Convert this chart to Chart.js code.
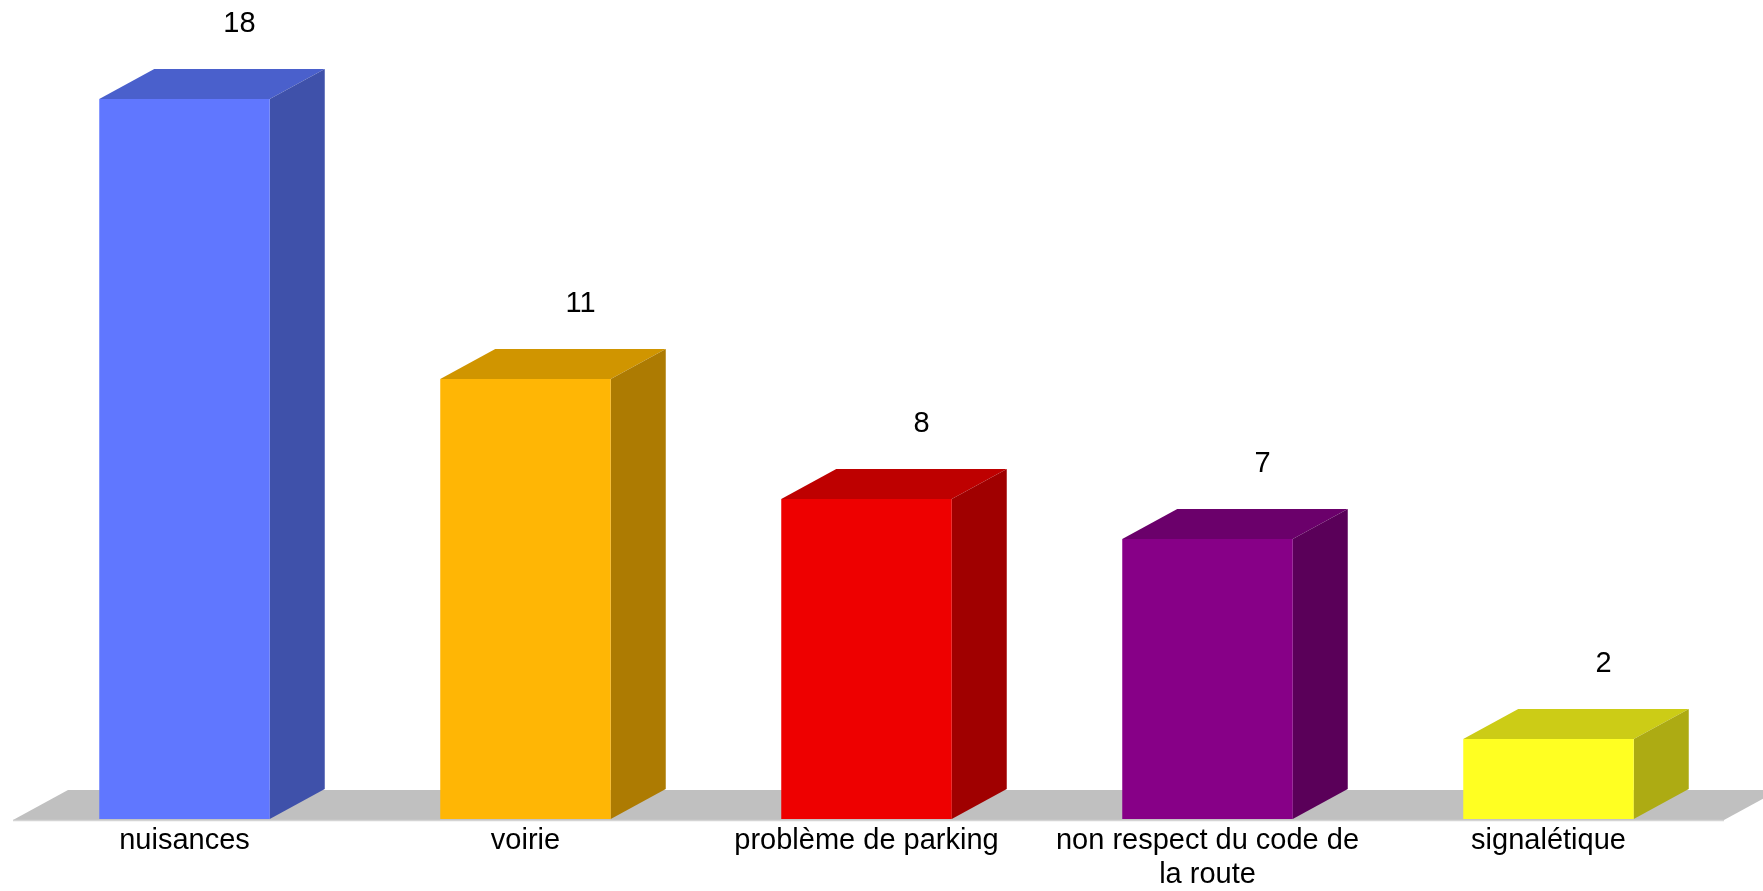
<!DOCTYPE html>
<html>
<head>
<meta charset="utf-8">
<title>3D bar chart</title>
<script src="https://cdn.jsdelivr.net/npm/chart.js@4.4.0/dist/chart.umd.min.js"></script>
<style>
  html, body { margin: 0; padding: 0; background: #fff; }
  #wrap { width: 1763px; height: 891px; }
</style>
</head>
<body>
<div id="wrap"><canvas id="chart" width="1763" height="891"></canvas></div>
<script>
'use strict';

/* DATA */

const categories = [
  'nuisances',
  'voirie',
  'problème de parking',
  ['non respect du code de', 'la route'],
  'signalétique'
];
const counts = [18, 11, 8, 7, 2];

// front / top / side shades per bar
const frontColors = ['#6077FF', '#FFB605', '#EE0000', '#870087', '#FFFF22'];
const topColors   = ['#4A60CC', '#D09500', '#BE0000', '#6B006B', '#CCCC16'];
const sideColors  = ['#3F51AA', '#AD7B02', '#A00000', '#5A0059', '#ADAB13'];

const DEPTH_X = 55;
const DEPTH_Y = 30;

/* 3D PLUGIN */

const box3d = {
  id: 'box3d',
  beforeDatasetsDraw(chart) {
    const ctx = chart.ctx;
    const area = chart.chartArea;
    const base = chart.scales.y.getPixelForValue(0);

    // grey floor
    const fl = area.left - 1, fr = area.right + 5, fy = base + 1;
    ctx.save();
    ctx.fillStyle = '#C0C0C0';
    ctx.beginPath();
    ctx.moveTo(fl, fy);
    ctx.lineTo(fl + DEPTH_X, fy - DEPTH_Y);
    ctx.lineTo(fr + DEPTH_X, fy - DEPTH_Y);
    ctx.lineTo(fr, fy);
    ctx.closePath();
    ctx.fill();
    ctx.strokeStyle = '#D4D4D4';
    ctx.lineWidth = 1.5;
    ctx.beginPath();
    ctx.moveTo(fl, fy + 0.5);
    ctx.lineTo(fr, fy + 0.5);
    ctx.stroke();

    // top and side faces
    chart.getDatasetMeta(0).data.forEach(function(bar, i) {
      const p = bar.getProps(['x', 'y', 'base', 'width'], true);
      const l = p.x - p.width / 2, r = p.x + p.width / 2;
      ctx.fillStyle = topColors[i];
      ctx.beginPath();
      ctx.moveTo(l, p.y);
      ctx.lineTo(l + DEPTH_X, p.y - DEPTH_Y);
      ctx.lineTo(r + DEPTH_X, p.y - DEPTH_Y);
      ctx.lineTo(r, p.y);
      ctx.closePath();
      ctx.fill();
      ctx.fillStyle = sideColors[i];
      ctx.beginPath();
      ctx.moveTo(r, p.y);
      ctx.lineTo(r + DEPTH_X, p.y - DEPTH_Y);
      ctx.lineTo(r + DEPTH_X, p.base - DEPTH_Y);
      ctx.lineTo(r, p.base);
      ctx.closePath();
      ctx.fill();
    });
    ctx.restore();
  },
  afterDatasetsDraw(chart) {
    const ctx = chart.ctx;
    ctx.save();
    ctx.fillStyle = '#000';
    ctx.font = '29px "Liberation Sans", Arial, sans-serif';
    ctx.textAlign = 'center';
    ctx.textBaseline = 'middle';
    chart.getDatasetMeta(0).data.forEach(function(bar, i) {
      const p = bar.getProps(['x', 'y'], true);
      ctx.fillText(String(counts[i]), p.x + DEPTH_X, p.y - DEPTH_Y - 45);
    });
    ctx.restore();
  }
};

/* CHART */

const ctx = document.getElementById('chart').getContext('2d');
const chart = new Chart(ctx, {
  type: 'bar',
  data: {
    labels: categories,
    datasets: [{
      data: counts,
      backgroundColor: frontColors,
      borderWidth: 0,
      barPercentage: 1,
      categoryPercentage: 0.5
    }]
  },
  options: {
    responsive: false,
    animation: false,
    devicePixelRatio: 1,
    layout: { padding: { left: 14, right: 44, top: 19, bottom: 0 } },
    plugins: {
      legend: { display: false },
      tooltip: { enabled: false }
    },
    scales: {
      x: {
        grid: { display: false },
        border: { display: false },
        ticks: {
          color: '#000',
          padding: -3,
          maxRotation: 0,
          autoSkip: false,
          font: { family: '"Liberation Sans", Arial, sans-serif', size: 29, lineHeight: 1.17 }
        },
        afterFit: function(scale) { scale.height = 72; }
      },
      y: {
        display: false,
        min: 0,
        max: 20
      }
    }
  },
  plugins: [box3d]
});
</script>
</body>
</html>
